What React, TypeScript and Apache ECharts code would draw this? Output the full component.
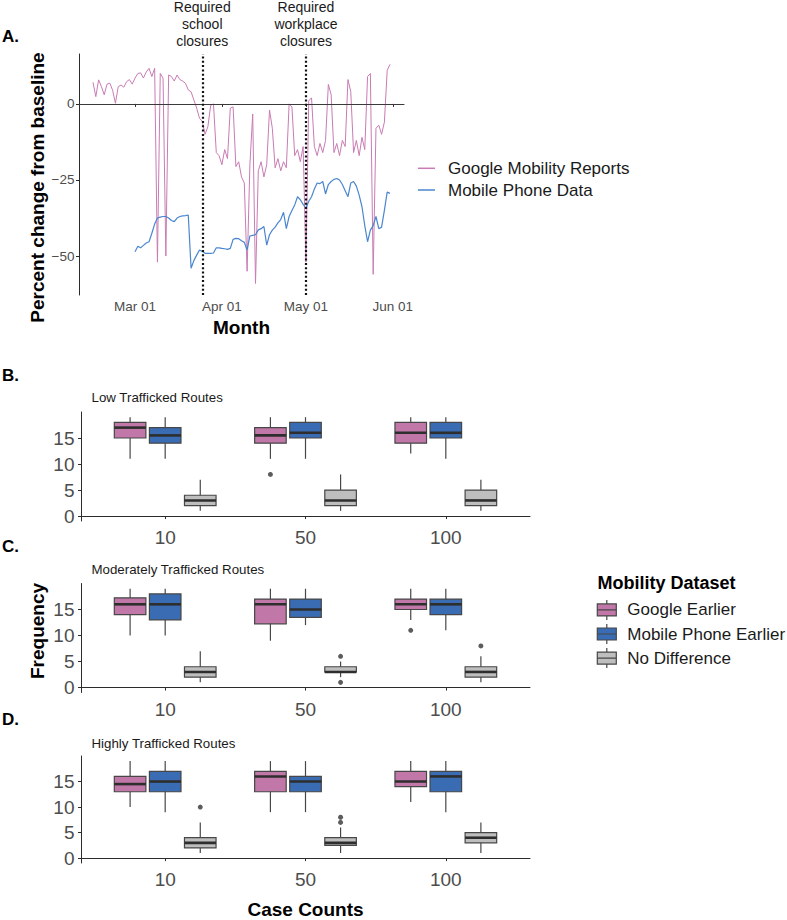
import React, { useEffect, useRef } from 'react';
import * as echarts from 'echarts';

const FONT = '"Liberation Sans", Arial, Helvetica, sans-serif';
const AXIS_TEXT = '#4D4D4D';
const AXIS_LINE = '#2b2b2b';
const PINK_LINE = '#C87CB3';
const BLUE_LINE = '#4A86CF';
const BOX_COLORS = ['#C178A8', '#3A6CB3', '#BEBEBE'];
const BOX_EDGE = '#474747';
const MEDIAN = '#2e2e2e';

// ---------------- Panel A: mobility time series ----------------
const axisStartDate = '2020-02-10';
const axisEndDate = '2020-06-05';
const monthNames = ['Jan', 'Feb', 'Mar', 'Apr', 'May', 'Jun', 'Jul', 'Aug', 'Sep', 'Oct', 'Nov', 'Dec'];
const lineSeriesNames = ['Google Mobility Reports', 'Mobile Phone Data'];

const googleStartDate = '2020-02-15';
const googleFeb = [7.1, 2.4, 7.9, 5.7, 3, 6.5, 6.8, 4.5, 0.2, 5.7, 6.2, 5.5, 7.3, 8, 6.5];
const googleMar = [8.5, 10, 10.2, 8.5, 10.5, 11.7, 9, 11.7, -52, 10, 8.5, -50, 9.5, 9, 7.5, 9.5, 8, 7.5, 6.8, 4.6, 4, 1.3, -1.4, -4.7, -5.7, -10, -7.5, -0.5, 0, -16, -17];
const googleApr = [-20, -15, -18, -1.4, -1, -20.6, -19, -24, -26, -55, -20, -3.3, -59, -22, -19, -24, -20, -2, -8, -21, -18, -22, -19, -21, 0, -1, -17, -15, -19, -14];
const googleMay = [-52, 1, 2, -14, -17, -13, -16, -12, 6.4, 3, -16, -13, -17, -12, -14, 8, 4, -16, -12, -17, -11, -15, 9, 10, -56, -8, -7, -10, -6, 11, 13];

const phoneStartDate = '2020-03-01';
const phoneMar = [-48.6, -46.8, -47.3, -46.5, -45.7, -45.3, -42.5, -39.5, -37.5, -37.2, -37, -37, -37.5, -38.3, -38.7, -37.5, -37, -36.8, -36.7, -36.5, -54, -51.5, -49.7, -48, -48.5, -49.1, -49.1, -49.1, -49, -47.3, -47.3];
const phoneApr = [-47.5, -47.6, -47.8, -47.5, -44.5, -44.2, -44.3, -45, -45.5, -48, -43.4, -43.2, -43, -41.4, -41, -40.3, -46.4, -43, -41.5, -40.5, -39.1, -38, -35.6, -41, -37, -35, -33.2, -30.5, -31.5, -33];
const phoneMay = [-34.3, -32, -30.5, -28, -26, -26.2, -25.5, -29.6, -26.5, -25.5, -24.8, -24.5, -25, -26.5, -28.5, -30.5, -26, -25.5, -27, -30, -33.8, -40, -45.3, -41.5, -40, -37, -41, -40.5, -35, -29, -29.4];

const percentRange = [-62.8, 16.4];
const percentTicks = [-50, -25, 0];
const closures = [
  { date: '2020-03-25', label: 'Required\nschool\nclosures' },
  { date: '2020-05-01', label: 'Required\nworkplace\nclosures' },
];

// ---------------- Panels B–D: box plots ----------------
const caseCounts = ['10', '50', '100'];
const datasetNames = ['Google Earlier', 'Mobile Phone Earlier', 'No Difference'];
const routeTitles = ['Low Trafficked Routes', 'Moderately Trafficked Routes', 'Highly Trafficked Routes'];
const frequencyRange = [-0.95, 20];
const frequencyTicks = [0, 5, 10, 15];

// each row: [min, q1, median, q3, max] for case counts 10, 50, 100
const lowGoogle = [[11, 15, 17, 18, 19], [11, 14, 15.5, 17, 19], [12, 14, 16, 18, 19]];
const lowPhone = [[11, 14, 15.5, 17, 19], [11, 15, 16, 18, 19], [11, 15, 16, 18, 19]];
const lowNone = [[1, 2, 3, 4, 7], [1, 2, 3, 5, 8], [1, 2, 3, 5, 7]];
const lowGoogleOut = [['50', 8]];
const lowPhoneOut: any[] = [];
const lowNoneOut: any[] = [];

const modGoogle = [[10, 14, 16, 17.25, 19], [9, 12.25, 16, 17, 19], [13, 15, 16, 17, 19]];
const modPhone = [[10, 13, 16, 18, 19], [12, 13.5, 15, 17, 19], [11, 14, 16, 17, 19]];
const modNone = [[1, 2, 3, 4, 7], [2, 3, 3, 4, 5], [1, 2, 3, 4, 6]];
const modGoogleOut = [['100', 11]];
const modPhoneOut: any[] = [];
const modNoneOut = [['50', 6], ['50', 1], ['100', 8]];

const highGoogle = [[10, 13, 14.5, 16, 19], [9, 13, 16, 17, 19], [11, 14, 15, 17, 19]];
const highPhone = [[9, 13, 15, 17, 19], [9, 13, 15, 16, 19], [9, 13, 16, 17, 19]];
const highNone = [[1, 2, 3, 4, 7], [1, 2.5, 3, 4, 6], [1, 3, 4, 5, 7]];
const highGoogleOut: any[] = [];
const highPhoneOut: any[] = [];
const highNoneOut = [['10', 10], ['50', 7], ['50', 8]];

const panels = [
  { boxes: [lowGoogle, lowPhone, lowNone], outliers: [lowGoogleOut, lowPhoneOut, lowNoneOut] },
  { boxes: [modGoogle, modPhone, modNone], outliers: [modGoogleOut, modPhoneOut, modNoneOut] },
  { boxes: [highGoogle, highPhone, highNone], outliers: [highGoogleOut, highPhoneOut, highNoneOut] },
];

// ---------------- helpers ----------------
function addDays(iso: string, n: number): string {
  const d = new Date(iso + 'T00:00:00Z');
  d.setUTCDate(d.getUTCDate() + n);
  return d.toISOString().slice(0, 10);
}
function daysBetween(a: string, b: string): number {
  return Math.round((Date.parse(b + 'T00:00:00Z') - Date.parse(a + 'T00:00:00Z')) / 86400000);
}
const isMonthStart = (_i: number, v: string) => v.slice(8, 10) === '01';
const minusFmt = (v: number) => (v < 0 ? '\u2212' + Math.abs(v) : String(v));

const DODGE = [-0.25, 0, 0.25];
const BOX_W = 0.225;
const BOX_ICON = 'path://M9.5,0L9.5,4M0,4L19,4L19,16L0,16ZM0,10L19,10M9.5,16L9.5,20';

function buildOption() {
  const axisDays = Array.from({ length: daysBetween(axisStartDate, axisEndDate) + 1 }, (_, i) => addDays(axisStartDate, i));
  const google = [...googleFeb, ...googleMar, ...googleApr, ...googleMay];
  const phone = [...phoneMar, ...phoneApr, ...phoneMay];
  const googleData = google.map((v, i) => [addDays(googleStartDate, i), v]);
  const phoneData = phone.map((v, i) => [addDays(phoneStartDate, i), v]);

  const grids: any[] = [
    { left: 79, top: 54, width: 325, height: 241 },
    { left: 81, top: 412, width: 449, height: 109 },
    { left: 81, top: 583.5, width: 449, height: 109 },
    { left: 81, top: 756, width: 449, height: 109 },
  ];

  const xAxes: any[] = [
    {
      type: 'category', gridIndex: 0, data: axisDays, boundaryGap: false,
      axisLine: { lineStyle: { color: AXIS_LINE, width: 1 } },
      axisTick: { interval: isMonthStart, length: 3, lineStyle: { color: AXIS_LINE } },
      axisLabel: {
        interval: isMonthStart, margin: 4, fontSize: 13.5, color: AXIS_TEXT, fontFamily: FONT,
        formatter: (v: string) => monthNames[Number(v.slice(5, 7)) - 1] + ' ' + v.slice(8, 10),
      },
      splitLine: { show: false },
      name: 'Month', nameLocation: 'middle', nameGap: 23,
      nameTextStyle: { fontSize: 19, fontWeight: 'bold', color: '#000', fontFamily: FONT },
    },
  ];
  const yAxes: any[] = [
    {
      type: 'value', gridIndex: 0, min: percentRange[0], max: percentRange[1],
      axisLine: { show: true, lineStyle: { color: AXIS_LINE, width: 1 } },
      axisTick: { show: true, customValues: percentTicks, length: 3, lineStyle: { color: AXIS_LINE } },
      axisLabel: { customValues: percentTicks, formatter: minusFmt, margin: 4.5, fontSize: 13.5, color: AXIS_TEXT, fontFamily: FONT },
      splitLine: { show: false },
    },
  ];

  for (let p = 0; p < 3; p++) {
    xAxes.push({
      type: 'value', gridIndex: p + 1, min: 0.4, max: 3.6,
      axisLine: { show: true, lineStyle: { color: AXIS_LINE, width: 1 } },
      axisTick: { show: true, customValues: [1, 2, 3], length: 3, lineStyle: { color: AXIS_LINE } },
      axisLabel: {
        customValues: [1, 2, 3], margin: 7, fontSize: 19, color: AXIS_TEXT, fontFamily: FONT,
        formatter: (v: number) => caseCounts[Math.round(v) - 1] ?? '',
      },
      splitLine: { show: false },
      ...(p === 2
        ? {
            name: 'Case Counts', nameLocation: 'middle', nameGap: 37,
            nameTextStyle: { fontSize: 19, fontWeight: 'bold', color: '#000', fontFamily: FONT },
          }
        : {}),
    });
    yAxes.push({
      type: 'value', gridIndex: p + 1, min: frequencyRange[0], max: frequencyRange[1],
      axisLine: { show: true, lineStyle: { color: AXIS_LINE, width: 1 } },
      axisTick: { show: true, customValues: frequencyTicks, length: 3, lineStyle: { color: AXIS_LINE } },
      axisLabel: { customValues: frequencyTicks, margin: 6.5, fontSize: 19, color: AXIS_TEXT, fontFamily: FONT },
      splitLine: { show: false },
    });
  }

  const series: any[] = [
    {
      type: 'line', name: lineSeriesNames[0], xAxisIndex: 0, yAxisIndex: 0, data: googleData,
      symbol: 'none', showSymbol: false, silent: true,
      lineStyle: { color: PINK_LINE, width: 1 }, itemStyle: { color: PINK_LINE },
      z: 2,
    },
    {
      type: 'line', name: lineSeriesNames[1], xAxisIndex: 0, yAxisIndex: 0, data: phoneData,
      symbol: 'none', showSymbol: false, silent: true,
      lineStyle: { color: BLUE_LINE, width: 1.2 }, itemStyle: { color: BLUE_LINE },
      z: 3,
      markLine: {
        symbol: 'none', silent: true, animation: false,
        data: [
          { yAxis: 0, lineStyle: { type: 'solid', color: '#3a3a3a', width: 1 }, label: { show: false } },
          ...closures.map((c) => ({
            xAxis: c.date,
            lineStyle: { type: [2, 2.3], color: '#111', width: 2.2, cap: 'butt' },
            label: {
              show: true, position: 'end', distance: 5, formatter: c.label,
              fontSize: 14, lineHeight: 17, color: '#1a1a1a', fontFamily: FONT, align: 'center',
            },
          })),
        ],
      },
    },
  ];

  panels.forEach((panel, p) => {
    panel.boxes.forEach((boxes, k) => {
      const color = BOX_COLORS[k];
      const offset = DODGE[k];
      series.push({
        type: 'custom', name: datasetNames[k], xAxisIndex: p + 1, yAxisIndex: p + 1,
        itemStyle: { color, borderColor: BOX_EDGE, borderWidth: 1 },
        data: boxes.map((b, i) => [i + 1, ...b]),
        encode: { x: 0, y: [1, 2, 3, 4, 5] },
        silent: true,
        renderItem: (_params: any, api: any) => {
          const x = api.value(0) + offset;
          const lo = api.coord([x, api.value(1)]);
          const q1 = api.coord([x, api.value(2)]);
          const med = api.coord([x, api.value(3)]);
          const q3 = api.coord([x, api.value(4)]);
          const hi = api.coord([x, api.value(5)]);
          const w = api.size([BOX_W, 0])[0];
          return {
            type: 'group',
            children: [
              { type: 'line', shape: { x1: lo[0], y1: lo[1], x2: hi[0], y2: hi[1] }, style: { stroke: BOX_EDGE, lineWidth: 1.2 } },
              { type: 'rect', shape: { x: q3[0] - w / 2, y: q3[1], width: w, height: q1[1] - q3[1] }, style: { fill: color, stroke: BOX_EDGE, lineWidth: 1.2 } },
              { type: 'line', shape: { x1: med[0] - w / 2, y1: med[1], x2: med[0] + w / 2, y2: med[1] }, style: { stroke: MEDIAN, lineWidth: 2.6 } },
            ],
          };
        },
      });
      const outs = panel.outliers[k];
      if (outs.length) {
        series.push({
          type: 'scatter', name: datasetNames[k] + ' outliers', xAxisIndex: p + 1, yAxisIndex: p + 1,
          data: outs.map((o: any) => [caseCounts.indexOf(o[0]) + 1 + offset, o[1]]),
          symbol: 'circle', symbolSize: 5, itemStyle: { color: '#333' }, silent: true, z: 4,
        });
      }
    });
  });

  const titleBase = { padding: 0, textStyle: { fontFamily: FONT } };
  const titles: any[] = [
    { text: 'A.', left: 2, top: 27.8, padding: 0, textStyle: { fontSize: 17, fontWeight: 'bold', color: '#000', fontFamily: FONT } },
    { text: 'B.', left: 2, top: 366.5, padding: 0, textStyle: { fontSize: 17, fontWeight: 'bold', color: '#000', fontFamily: FONT } },
    { text: 'C.', left: 2, top: 538.3, padding: 0, textStyle: { fontSize: 17, fontWeight: 'bold', color: '#000', fontFamily: FONT } },
    { text: 'D.', left: 2, top: 710.7, padding: 0, textStyle: { fontSize: 17, fontWeight: 'bold', color: '#000', fontFamily: FONT } },
    { text: routeTitles[0], left: 91.5, top: 391, ...titleBase, textStyle: { fontSize: 13.3, fontWeight: 'normal', color: '#1a1a1a', fontFamily: FONT } },
    { text: routeTitles[1], left: 91.5, top: 563.3, ...titleBase, textStyle: { fontSize: 13.3, fontWeight: 'normal', color: '#1a1a1a', fontFamily: FONT } },
    { text: routeTitles[2], left: 91.5, top: 736.6, ...titleBase, textStyle: { fontSize: 13.3, fontWeight: 'normal', color: '#1a1a1a', fontFamily: FONT } },
    { text: 'Mobility Dataset', left: 597.5, top: 574, padding: 0, textStyle: { fontSize: 18, fontWeight: 'bold', color: '#000', fontFamily: FONT } },
  ];

  const legends: any[] = [
    {
      data: lineSeriesNames, orient: 'vertical', left: 418, top: 159.8, padding: 0,
      icon: 'rect', itemWidth: 17, itemHeight: 1.5, itemGap: 4.7, selectedMode: false,
      textStyle: { fontSize: 17, color: '#1a1a1a', fontFamily: FONT, padding: [0, 0, 0, 8] },
    },
    {
      data: datasetNames.map((n, i) => ({
        name: n, icon: BOX_ICON,
        itemStyle: { color: BOX_COLORS[i], borderColor: BOX_EDGE, borderWidth: 1.2 },
      })),
      orient: 'vertical', left: 596.7, top: 599.3, padding: 0,
      itemWidth: 19, itemHeight: 20, itemGap: 2.9, selectedMode: false,
      textStyle: { fontSize: 17, color: '#1a1a1a', fontFamily: FONT, padding: [0, 0, 0, 6] },
    },
  ];

  const graphic: any[] = [
    {
      type: 'text', x: 37, y: 187.5, rotation: Math.PI / 2, silent: true,
      style: { text: 'Percent change from baseline', fontSize: 19, fontWeight: 'bold', fontFamily: FONT, fill: '#000', align: 'center', verticalAlign: 'middle' },
    },
    {
      type: 'text', x: 37, y: 631, rotation: Math.PI / 2, silent: true,
      style: { text: 'Frequency', fontSize: 19, fontWeight: 'bold', fontFamily: FONT, fill: '#000', align: 'center', verticalAlign: 'middle' },
    },
  ];

  return {
    animation: false,
    backgroundColor: '#ffffff',
    textStyle: { fontFamily: FONT },
    title: titles,
    legend: legends,
    grid: grids,
    xAxis: xAxes,
    yAxis: yAxes,
    series,
    graphic,
  };
}

export default function App() {
  const ref = useRef<HTMLDivElement | null>(null);
  useEffect(() => {
    if (!ref.current) return;
    const chart = echarts.init(ref.current, undefined, { renderer: 'svg' });
    chart.setOption(buildOption() as any);
    return () => chart.dispose();
  }, []);
  return (
    <div
      ref={ref}
      style={{ position: 'fixed', left: 0, top: 0, width: 787, height: 920, background: '#fff' }}
    />
  );
}
